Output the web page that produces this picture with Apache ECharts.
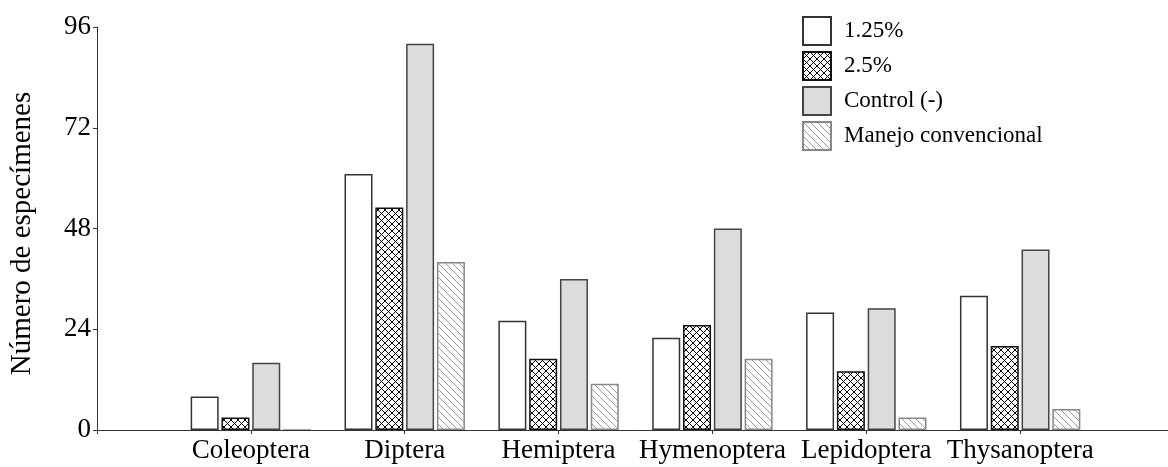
<!DOCTYPE html>
<html>
<head>
<meta charset="utf-8">
<script src="https://cdn.jsdelivr.net/npm/echarts@6/dist/echarts.min.js"></script>
<style>html,body{margin:0;padding:0;background:#fff}#c{width:1168px;height:467px}</style>
</head>
<body>
<div id="c"></div>
<script>
// Data
const categories = ['', 'Coleoptera', 'Diptera', 'Hemiptera', 'Hymenoptera', 'Lepidoptera', 'Thysanoptera', ''];
const seriesNames = ['1.25%', '2.5%', 'Control (-)', 'Manejo convencional'];
const s125 = ['-', 8, 61, 26, 22, 28, 32, '-'];
const s25 = ['-', 3, 53, 17, 25, 14, 20, '-'];
const sControl = ['-', 16, 92, 36, 48, 29, 43, '-'];
const sManejo = ['-', 0, 40, 11, 17, 3, 5, '-'];
const yTicks = [0, 24, 48, 72, 96];

function crossHatch() {
  const c = document.createElement('canvas');
  c.width = 7; c.height = 7;
  const g = c.getContext('2d');
  g.fillStyle = '#fff'; g.fillRect(0, 0, 7, 7);
  g.strokeStyle = '#000'; g.lineWidth = 1;
  g.beginPath();
  g.moveTo(0, 0); g.lineTo(7, 7);
  g.moveTo(7, 0); g.lineTo(0, 7);
  g.stroke();
  return c;
}
function diagHatch() {
  const c = document.createElement('canvas');
  c.width = 7; c.height = 7;
  const g = c.getContext('2d');
  g.fillStyle = '#fff'; g.fillRect(0, 0, 7, 7);
  g.strokeStyle = '#999'; g.lineWidth = 1;
  g.beginPath();
  g.moveTo(-1, -1); g.lineTo(8, 8);
  g.moveTo(-1, 6); g.lineTo(1, 8);
  g.moveTo(6, -1); g.lineTo(8, 1);
  g.stroke();
  return c;
}

const font = 'Liberation Serif';
const styles = [
  { color: '#ffffff', borderColor: '#333', borderWidth: 1.5 },
  { color: { image: crossHatch(), repeat: 'repeat' }, borderColor: '#111', borderWidth: 1.5 },
  { color: '#dcdcdc', borderColor: '#444', borderWidth: 1.5 },
  { color: { image: diagHatch(), repeat: 'repeat' }, borderColor: '#888', borderWidth: 1.5 }
];
const values = [s125, s25, sControl, sManejo];

const chart = echarts.init(document.getElementById('c'), null, { renderer: 'canvas' });
chart.setOption({
  animation: false,
  backgroundColor: '#fff',
  grid: { left: 97, right: -6, top: 27, bottom: 37, containLabel: false, outerBoundsMode: 'none' },
  legend: {
    orient: 'vertical',
    left: 797, top: 11,
    icon: 'rect',
    itemWidth: 28, itemHeight: 28, itemGap: 5,
    textStyle: { fontFamily: font, fontSize: 23, color: '#000', lineHeight: 26, padding: [0, 0, 0, 8] },
    data: seriesNames
  },
  xAxis: {
    type: 'category',
    data: categories,
    boundaryGap: false,
    z: 5,
    axisLine: { lineStyle: { color: '#333', width: 1 } },
    axisTick: { show: true, length: 4, lineStyle: { color: '#333' } },
    axisLabel: { fontFamily: font, fontSize: 27, color: '#000', margin: 7, interval: 0 },
    splitLine: { show: false }
  },
  yAxis: {
    type: 'value',
    min: 0, max: 96, interval: 24,
    name: 'Número de especímenes',
    nameLocation: 'middle',
    nameGap: 60,
    nameTextStyle: { fontFamily: font, fontSize: 29, color: '#000', padding: [0, 10, 0, 0] },
    axisLine: { show: true, lineStyle: { color: '#333', width: 1 } },
    axisTick: { show: true, length: 4, lineStyle: { color: '#333' } },
    axisLabel: { fontFamily: font, fontSize: 27, color: '#000', margin: 6,
      formatter: v => yTicks.includes(v) ? String(v) : '' },
    splitLine: { show: false }
  },
  series: seriesNames.map((n, i) => ({
    name: n,
    type: 'bar',
    data: values[i],
    barWidth: 28,
    barGap: '10%',
    itemStyle: styles[i]
  }))
});
</script>
</body>
</html>
